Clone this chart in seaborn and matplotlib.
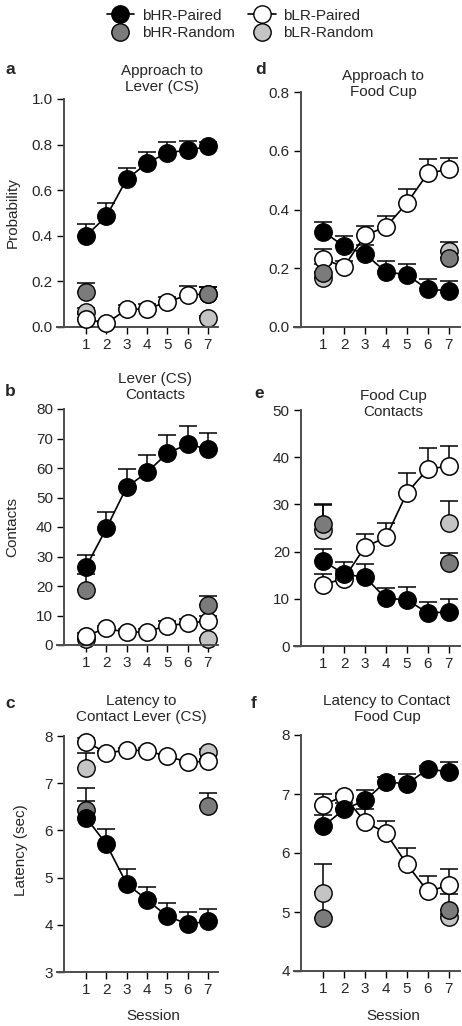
import seaborn as sns
import matplotlib.pyplot as plt
from matplotlib.lines import Line2D
import numpy as np

sns.set_style("white")
plt.rcParams['font.family'] = ['Liberation Sans', 'DejaVu Sans']

sessions = [1, 2, 3, 4, 5, 6, 7]
rand_sessions = [1, 7]

# a: approach to lever (probability)
a_hr = [0.40, 0.485, 0.648, 0.718, 0.765, 0.775, 0.792]
a_hr_sem = [0.05, 0.06, 0.05, 0.05, 0.045, 0.04, 0.02]
a_lr = [0.035, 0.016, 0.077, 0.079, 0.11, 0.14, 0.145]
a_lr_sem = [0.02, 0.01, 0.02, 0.02, 0.02, 0.04, 0.03]
a_hr_rand = [0.155, 0.145]
a_hr_rand_sem = [0.04, 0.032]
a_lr_rand = [0.065, 0.038]
a_lr_rand_sem = [0.02, 0.01]

# b: lever contacts
b_hr = [26.5, 39.5, 53.5, 58.5, 65.0, 68.0, 66.5]
b_hr_sem = [4.0, 5.6, 6.0, 5.8, 6.3, 6.2, 5.4]
b_lr = [3.2, 5.6, 4.3, 4.5, 6.6, 7.3, 8.2]
b_lr_sem = [1.0, 1.0, 1.0, 1.0, 1.5, 1.5, 1.5]
b_hr_rand = [18.7, 13.6]
b_hr_rand_sem = [5.5, 3.0]
b_lr_rand = [2.0, 1.9]
b_lr_rand_sem = [0.5, 0.5]

# c: latency to contact lever
c_hr = [6.27, 5.71, 4.87, 4.53, 4.18, 4.02, 4.07]
c_hr_sem = [0.35, 0.32, 0.31, 0.27, 0.28, 0.26, 0.26]
c_lr = [7.88, 7.64, 7.70, 7.69, 7.57, 7.45, 7.46]
c_lr_sem = [0.08, 0.05, 0.05, 0.05, 0.05, 0.05, 0.05]
c_hr_rand = [6.44, 6.52]
c_hr_rand_sem = [0.45, 0.28]
c_lr_rand = [7.32, 7.67]
c_lr_rand_sem = [0.31, 0.05]

# d: approach to food cup
d_hr = [0.325, 0.275, 0.248, 0.188, 0.178, 0.128, 0.124]
d_hr_sem = [0.034, 0.035, 0.03, 0.037, 0.035, 0.034, 0.034]
d_lr = [0.231, 0.205, 0.312, 0.341, 0.421, 0.523, 0.537]
d_lr_sem = [0.033, 0.02, 0.032, 0.037, 0.05, 0.048, 0.037]
d_hr_rand = [0.184, 0.236]
d_hr_rand_sem = [0.032, 0.02]
d_lr_rand = [0.166, 0.26]
d_lr_rand_sem = [0.02, 0.03]

# e: food cup contacts
e_hr = [18.1, 15.2, 14.6, 10.1, 9.8, 7.0, 7.2]
e_hr_sem = [2.5, 2.5, 2.8, 2.2, 2.6, 2.4, 2.7]
e_lr = [13.0, 14.3, 21.0, 23.0, 32.4, 37.5, 38.1]
e_lr_sem = [2.3, 1.5, 2.7, 3.1, 4.2, 4.4, 4.3]
e_hr_rand = [25.8, 17.6]
e_hr_rand_sem = [4.2, 2.0]
e_lr_rand = [24.5, 26.1]
e_lr_rand_sem = [5.3, 4.6]

# f: latency to contact food cup
f_hr = [6.45, 6.74, 6.89, 7.21, 7.17, 7.42, 7.38]
f_hr_sem = [0.19, 0.1, 0.18, 0.08, 0.17, 0.05, 0.17]
f_lr = [6.82, 6.96, 6.53, 6.34, 5.81, 5.35, 5.45]
f_lr_sem = [0.18, 0.05, 0.21, 0.2, 0.27, 0.26, 0.28]
f_hr_rand = [4.89, 5.03]
f_hr_rand_sem = [0.45, 0.28]
f_lr_rand = [5.32, 4.92]
f_lr_rand_sem = [0.5, 0.05]

DARK = '#7b7b7b'
LIGHT = '#c4c4c4'
MS = 12.5
FS = 11
W, H = 462, 1026

fig = plt.figure(figsize=(W / 100, H / 100), dpi=100)


def axes_px(x0, x1, ytop, ybot):
    return fig.add_axes([x0 / W, 1 - ybot / H, (x1 - x0) / W, (ybot - ytop) / H])


def draw_panel(ax, hr, hr_sem, lr, lr_sem, hrr, hrr_sem, lrr, lrr_sem,
               ylim, yticks, fmt, spine_x):
    # upward-only error bars
    for xs, ys, es in [(sessions, hr, hr_sem), (sessions, lr, lr_sem),
                       (rand_sessions, hrr, hrr_sem), (rand_sessions, lrr, lrr_sem)]:
        ax.errorbar(xs, ys, yerr=[np.zeros(len(es)), es], fmt='none',
                    ecolor='black', elinewidth=1.1, capsize=6.5, capthick=1.1,
                    zorder=1.5, clip_on=False)
    sns.scatterplot(x=rand_sessions, y=lrr, ax=ax, s=MS ** 2, color=LIGHT,
                    edgecolor='black', linewidth=1, zorder=2, clip_on=False)
    sns.lineplot(x=sessions, y=lr, ax=ax, color='black', lw=1.2, marker='o',
                 markersize=MS, markerfacecolor='white', markeredgecolor='black',
                 markeredgewidth=1.1, zorder=3, clip_on=False)
    sns.scatterplot(x=rand_sessions, y=hrr, ax=ax, s=MS ** 2, color=DARK,
                    edgecolor='black', linewidth=1, zorder=4, clip_on=False)
    sns.lineplot(x=sessions, y=hr, ax=ax, color='black', lw=1.2, marker='o',
                 markersize=MS, markerfacecolor='black', markeredgecolor='black',
                 markeredgewidth=1.1, zorder=5, clip_on=False)
    ax.set_ylim(*ylim)
    ax.set_yticks(yticks)
    ax.set_yticklabels([fmt.format(t) for t in yticks])
    ax.set_xticks(sessions)
    for s in ['top', 'right']:
        ax.spines[s].set_visible(False)
    ax.spines['left'].set_position(('data', spine_x))
    for s in ['left', 'bottom']:
        ax.spines[s].set_color('0.3')
        ax.spines[s].set_linewidth(1.4)
    ax.tick_params(axis='both', direction='out', length=5, width=1, color='black',
                   labelsize=FS, pad=3, left=True, bottom=True)
    ax.set_ylabel('')
    ax.set_xlabel('')


# left column
ax_a = axes_px(57, 218, 99, 327)
ax_b = axes_px(57, 218, 409, 645)
ax_c = axes_px(57, 218, 736, 972)
# right column
ax_d = axes_px(294, 460, 92, 327)
ax_e = axes_px(294, 460, 410, 646)
ax_f = axes_px(294, 460, 735, 971)

for ax in [ax_a, ax_b, ax_c]:
    ax.set_xlim(-0.43, 7.5)
for ax in [ax_d, ax_e, ax_f]:
    ax.set_xlim(-0.39, 7.54)

draw_panel(ax_a, a_hr, a_hr_sem, a_lr, a_lr_sem, a_hr_rand, a_hr_rand_sem,
           a_lr_rand, a_lr_rand_sem, (0, 1.0), [0, 0.2, 0.4, 0.6, 0.8, 1.0], '{:.1f}', -0.08)
draw_panel(ax_b, b_hr, b_hr_sem, b_lr, b_lr_sem, b_hr_rand, b_hr_rand_sem,
           b_lr_rand, b_lr_rand_sem, (0, 80), list(range(0, 81, 10)), '{:d}', -0.08)
draw_panel(ax_c, c_hr, c_hr_sem, c_lr, c_lr_sem, c_hr_rand, c_hr_rand_sem,
           c_lr_rand, c_lr_rand_sem, (3, 8), [3, 4, 5, 6, 7, 8], '{:d}', -0.08)
draw_panel(ax_d, d_hr, d_hr_sem, d_lr, d_lr_sem, d_hr_rand, d_hr_rand_sem,
           d_lr_rand, d_lr_rand_sem, (0, 0.8), [0, 0.2, 0.4, 0.6, 0.8], '{:.1f}', -0.06)
draw_panel(ax_e, e_hr, e_hr_sem, e_lr, e_lr_sem, e_hr_rand, e_hr_rand_sem,
           e_lr_rand, e_lr_rand_sem, (0, 50), [0, 10, 20, 30, 40, 50], '{:d}', -0.06)
draw_panel(ax_f, f_hr, f_hr_sem, f_lr, f_lr_sem, f_hr_rand, f_hr_rand_sem,
           f_lr_rand, f_lr_rand_sem, (4, 8), [4, 5, 6, 7, 8], '{:d}', -0.06)

# y labels
fig.text(13 / W, 1 - 213 / H, 'Probability', rotation=90, ha='center', va='center', fontsize=FS)
fig.text(12 / W, 1 - 527 / H, 'Contacts', rotation=90, ha='center', va='center', fontsize=FS)
fig.text(21 / W, 1 - 850 / H, 'Latency (sec)', rotation=90, ha='center', va='center', fontsize=FS)

# x labels
fig.text(153 / W, 1 - 1016 / H, 'Session', ha='center', va='center', fontsize=FS)
fig.text(393 / W, 1 - 1016 / H, 'Session', ha='center', va='center', fontsize=FS)

# panel titles
titles = [
    ('Approach to\nLever (CS)', 162, 79),
    ('Lever (CS)\nContacts', 155, 387),
    ('Latency to\nContact Lever (CS)', 141, 709),
    ('Approach to\nFood Cup', 383, 84),
    ('Food Cup\nContacts', 393, 404),
    ('Latency to Contact\nFood Cup', 387, 709),
]
for txt, x, y in titles:
    fig.text(x / W, 1 - y / H, txt, ha='center', va='center', fontsize=FS, linespacing=1.25)

letters = [('a', 10, 70), ('b', 10, 392), ('c', 10, 704),
           ('d', 261, 70), ('e', 259, 393), ('f', 254, 703)]
for txt, x, y in letters:
    fig.text(x / W, 1 - y / H, txt, ha='center', va='center', fontsize=12.5, fontweight='bold')

# legend
handles = [
    Line2D([], [], color='black', lw=1.2, marker='o', markersize=MS,
           markerfacecolor='black', markeredgecolor='black'),
    Line2D([], [], color='none', marker='o', markersize=MS,
           markerfacecolor=DARK, markeredgecolor='black'),
    Line2D([], [], color='black', lw=1.2, marker='o', markersize=MS,
           markerfacecolor='white', markeredgecolor='black'),
    Line2D([], [], color='none', marker='o', markersize=MS,
           markerfacecolor=LIGHT, markeredgecolor='black'),
]
labels = ['bHR-Paired', 'bHR-Random', 'bLR-Paired', 'bLR-Random']
fig.legend(handles, labels, ncol=2, loc='upper center', bbox_to_anchor=(0.52, 1.005),
           frameon=False, fontsize=FS, handlelength=1.8, handletextpad=0.5,
           columnspacing=0.9, labelspacing=0.25)

fig.savefig('out.png', dpi=100)
